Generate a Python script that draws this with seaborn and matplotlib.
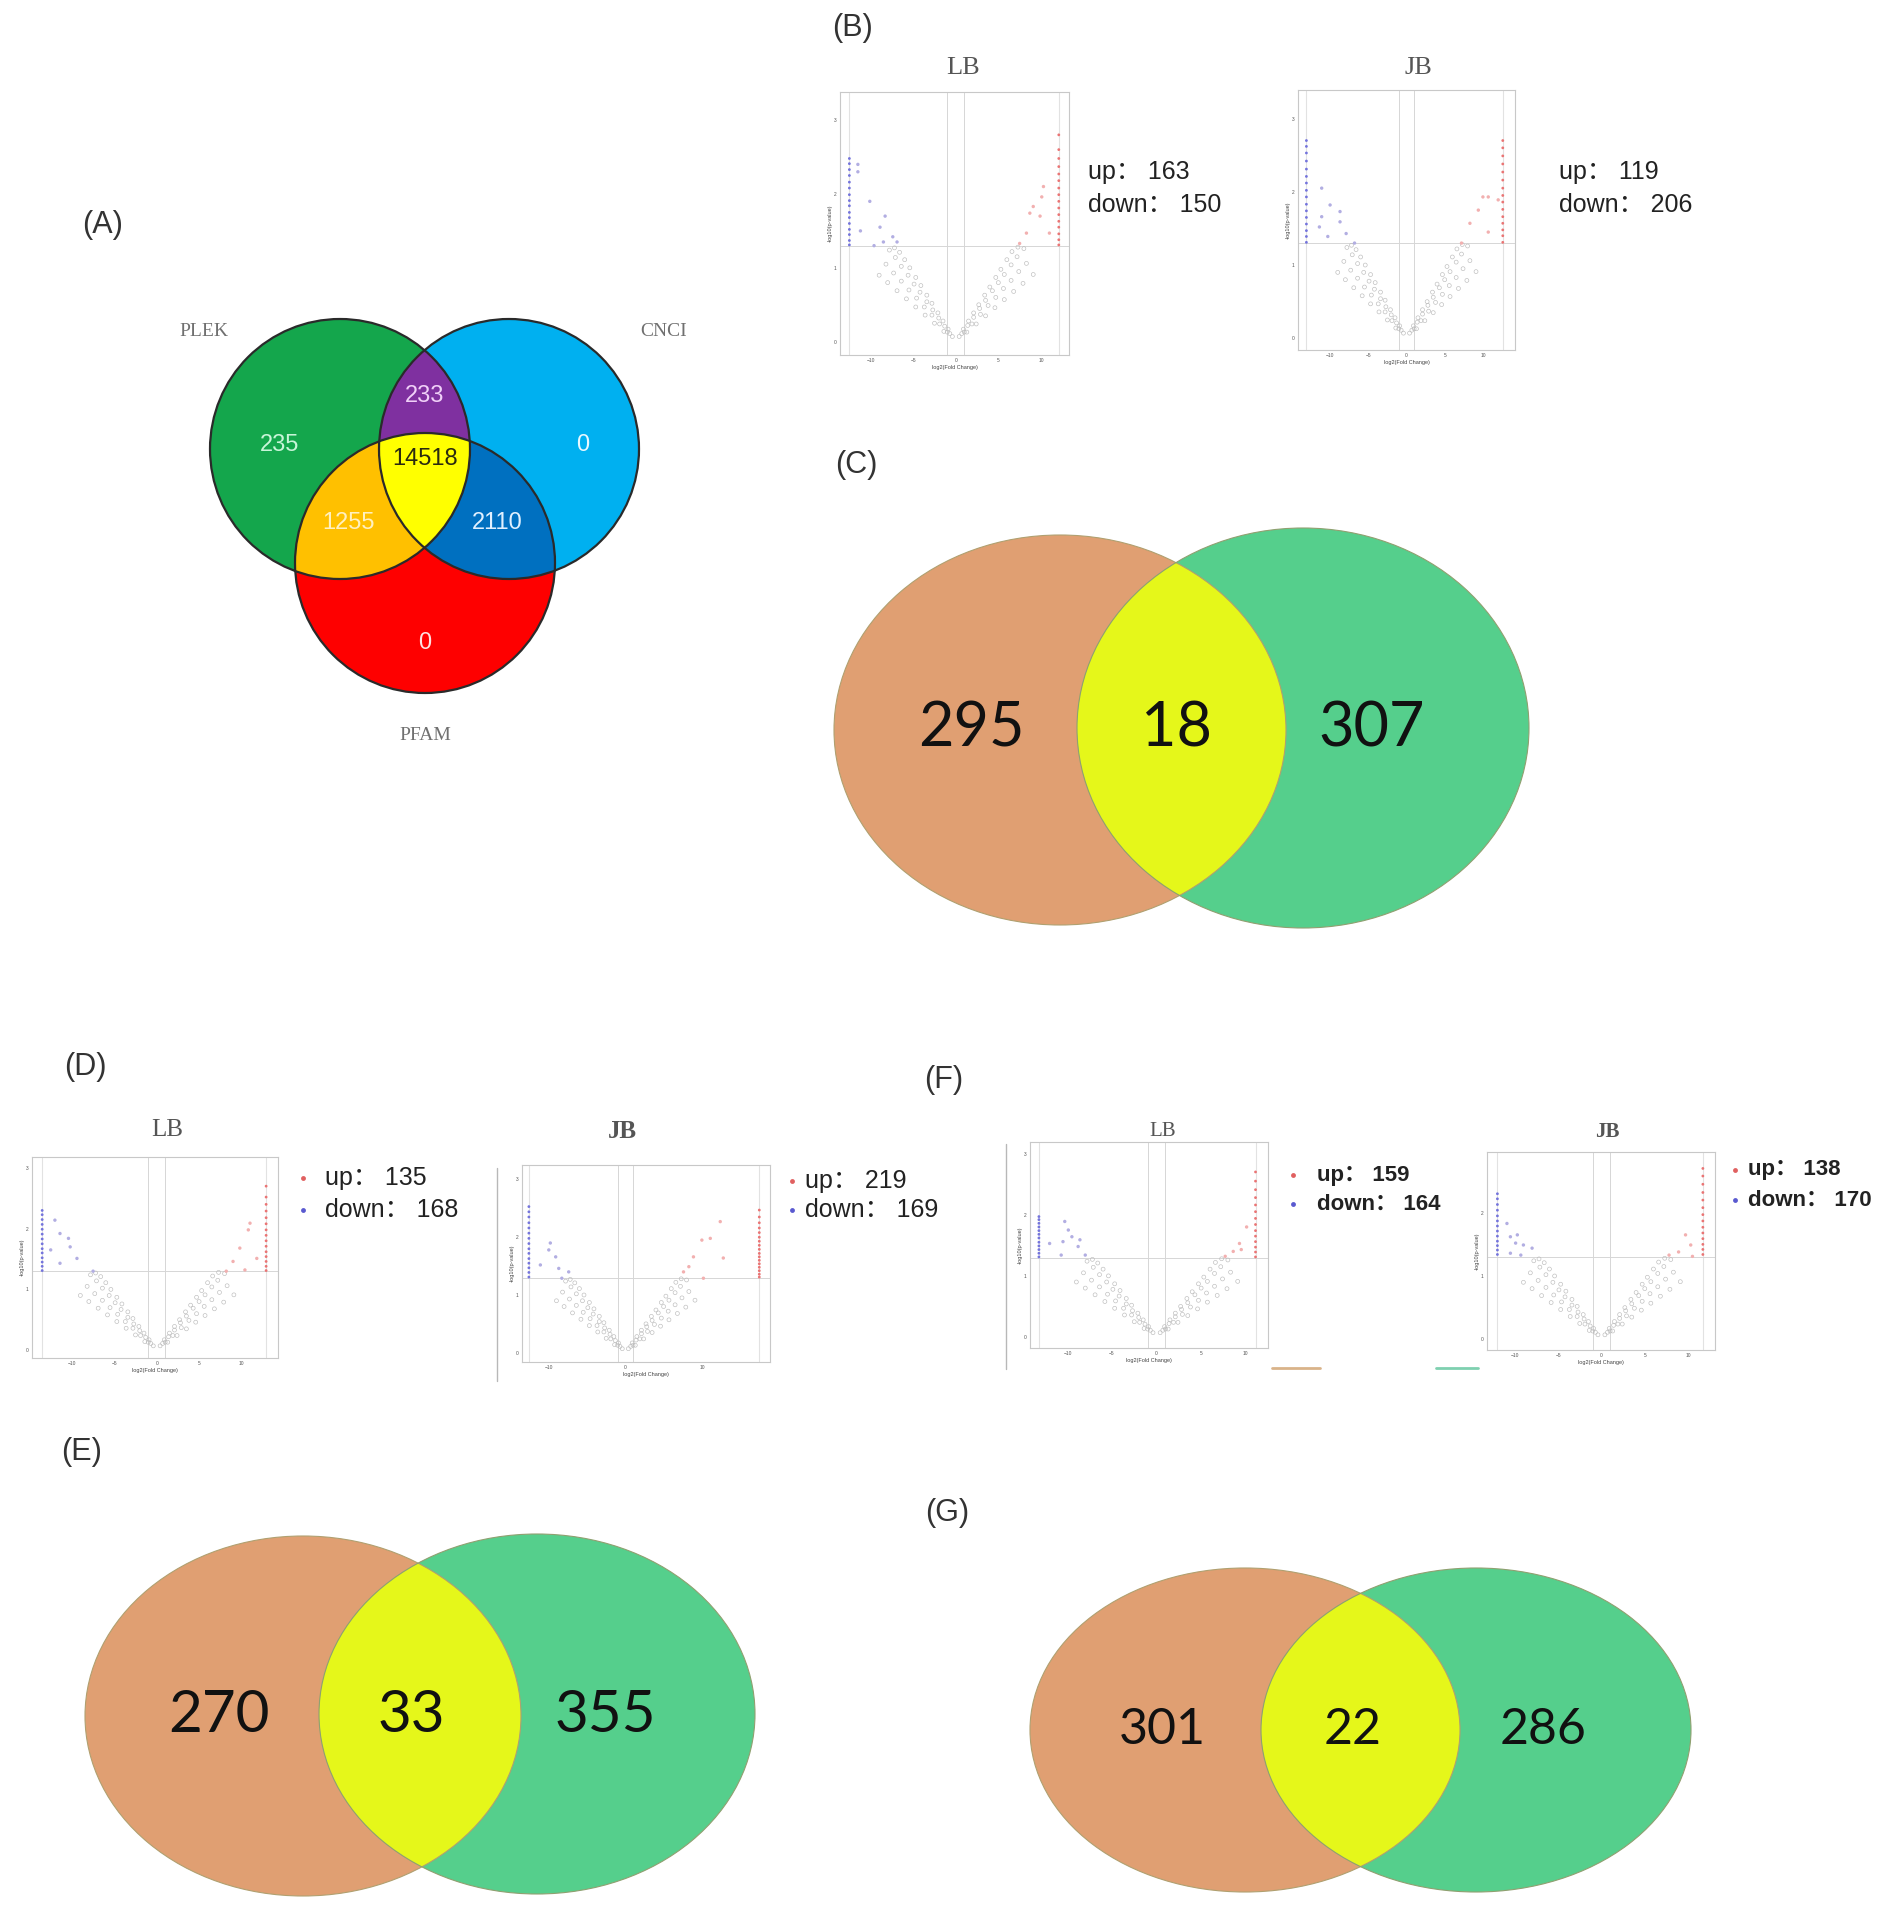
import numpy as np
import pandas as pd
import matplotlib.pyplot as plt
import seaborn as sns
from matplotlib.patches import Circle, Ellipse, Polygon

# ---- data ----
# panel A: three-way venn (PLEK / CNCI / PFAM)
venn3_names = ['PLEK', 'CNCI', 'PFAM']
venn3_regions = ['plek', 'plek_cnci', 'cnci', 'all', 'plek_pfam', 'cnci_pfam', 'pfam']
venn3_counts = [235, 233, 0, 14518, 1255, 2110, 0]

# panels C, E, G: LB only / shared / JB only
venn_c = [295, 18, 307]
venn_e = [270, 33, 355]
venn_g = [301, 22, 286]

# volcano panels B(LB, JB), D(LB, JB), F(LB, JB)
volcano_groups = ['LB', 'JB', 'LB', 'JB', 'LB', 'JB']
volcano_up = [163, 119, 135, 219, 159, 138]
volcano_down = [150, 206, 168, 169, 164, 170]

# non significant genes (grey V), same look in every volcano
ns_fc = [-0.4, -0.9, -1.5, -2.1, -2.8, -3.4, -4.1, -4.7, -5.4, -6.0, -6.6, -7.2,
         -0.7, -1.3, -2.0, -2.7, -3.4, -4.2, -4.9, -5.6, -6.4, -7.1, -7.8,
         -1.0, -1.9, -2.8, -3.7, -4.6, -5.5, -6.4, -7.3, -8.2,
         -1.4, -2.5, -3.6, -4.7, -5.8, -6.9, -8.0, -9.0,
         0.4, 0.9, 1.5, 2.1, 2.7, 3.4, 4.0, 4.7, 5.3, 6.0, 6.6, 7.3,
         0.7, 1.4, 2.1, 2.8, 3.5, 4.3, 5.0, 5.7, 6.5, 7.2, 8.0,
         1.0, 1.9, 2.9, 3.8, 4.7, 5.6, 6.5, 7.4, 8.3,
         1.3, 2.4, 3.5, 4.6, 5.7, 6.8, 7.9, 9.1]
ns_logp = [0.07, 0.17, 0.28, 0.39, 0.52, 0.63, 0.76, 0.87, 1.00, 1.11, 1.21, 1.27,
           0.11, 0.21, 0.32, 0.43, 0.54, 0.67, 0.78, 0.90, 1.02, 1.14, 1.24,
           0.13, 0.24, 0.36, 0.47, 0.59, 0.70, 0.82, 0.93, 1.05,
           0.14, 0.25, 0.36, 0.47, 0.58, 0.69, 0.80, 0.90,
           0.07, 0.17, 0.28, 0.39, 0.50, 0.63, 0.74, 0.87, 0.98, 1.11, 1.22, 1.28,
           0.11, 0.22, 0.33, 0.45, 0.56, 0.69, 0.80, 0.91, 1.04, 1.15, 1.26,
           0.13, 0.24, 0.37, 0.49, 0.60, 0.72, 0.83, 0.95, 1.06,
           0.13, 0.24, 0.35, 0.46, 0.57, 0.68, 0.79, 0.91]

# B - LB
b_lb_col_fc = [-12.5, 12.1]
b_lb_down = [1.31, 1.37, 1.45, 1.52, 1.6, 1.68, 1.75, 1.84, 1.91, 1.99, 2.08, 2.16, 2.25, 2.33, 2.41, 2.48]
b_lb_up = [1.31, 1.38, 1.46, 1.55, 1.63, 1.72, 1.81, 1.9, 1.99, 2.08, 2.18, 2.27, 2.37, 2.48, 2.6, 2.8]
b_lb_sig_fc = [-11.5, -11.5, -10.1, -8.3, -11.2, -8.9, -7.4, -8.5, -9.6, -6.9,
               7.5, 8.3, 8.7, 10.1, 10.3, 9.9, 11.0, 9.1]
b_lb_sig_p = [2.4, 2.3, 1.9, 1.7, 1.5, 1.55, 1.42, 1.35, 1.3, 1.35,
              1.33, 1.47, 1.74, 1.96, 2.1, 1.7, 1.47, 1.83]

# B - JB
b_jb_col_fc = [-13.1, 12.6]
b_jb_down = [1.31, 1.39, 1.47, 1.56, 1.65, 1.74, 1.83, 1.93, 2.02, 2.12, 2.21, 2.31, 2.42, 2.53, 2.62, 2.7]
b_jb_up = [1.31, 1.4, 1.48, 1.57, 1.66, 1.76, 1.86, 1.95, 2.05, 2.16, 2.27, 2.38, 2.49, 2.6, 2.7]
b_jb_sig_fc = [-11.1, -10.0, -11.1, -8.7, -8.7, -11.4, -10.3, -7.9, -6.8,
               7.2, 8.3, 9.4, 10.0, 10.7, 12.0, 10.7]
b_jb_sig_p = [2.05, 1.82, 1.66, 1.73, 1.59, 1.52, 1.39, 1.43, 1.3,
              1.3, 1.57, 1.75, 1.93, 1.93, 1.89, 1.45]

# D - LB
d_lb_col_fc = [-13.5, 12.9]
d_lb_down = [1.31, 1.38, 1.45, 1.52, 1.6, 1.67, 1.75, 1.83, 1.91, 1.99, 2.07, 2.15, 2.23, 2.3]
d_lb_up = [1.31, 1.38, 1.46, 1.54, 1.62, 1.71, 1.8, 1.89, 1.98, 2.08, 2.18, 2.29, 2.4, 2.52, 2.7]
d_lb_sig_fc = [-12.0, -11.4, -10.4, -10.2, -12.5, -11.4, -9.4, -7.5,
               8.2, 9.0, 9.8, 10.8, 11.0, 10.4, 11.8]
d_lb_sig_p = [2.14, 1.92, 1.84, 1.7, 1.65, 1.43, 1.51, 1.3,
              1.3, 1.46, 1.68, 1.98, 2.09, 1.32, 1.51]

# D - JB
d_jb_col_fc = [-12.6, 17.5]
d_jb_down = [1.31, 1.39, 1.47, 1.55, 1.63, 1.72, 1.8, 1.89, 1.98, 2.07, 2.16, 2.25, 2.35, 2.44, 2.53]
d_jb_up = [1.31, 1.36, 1.42, 1.48, 1.54, 1.6, 1.66, 1.72, 1.79, 1.86, 1.93, 2.0, 2.08, 2.16, 2.25, 2.35, 2.47]
d_jb_sig_fc = [-9.8, -10.0, -9.1, -11.1, -8.7, -7.4, -8.3,
               12.4, 11.1, 10.0, 8.9, 8.3, 7.6, 12.8, 10.2]
d_jb_sig_p = [1.9, 1.78, 1.66, 1.52, 1.46, 1.4, 1.29,
              2.27, 1.98, 1.95, 1.66, 1.49, 1.4, 1.64, 1.29]

# F - LB
f_lb_col_fc = [-13.2, 11.1]
f_lb_down = [1.31, 1.37, 1.43, 1.49, 1.55, 1.62, 1.68, 1.74, 1.8, 1.86, 1.92, 1.97]
f_lb_up = [1.31, 1.39, 1.47, 1.56, 1.65, 1.74, 1.84, 1.94, 2.05, 2.16, 2.28, 2.41, 2.55, 2.7]
f_lb_sig_fc = [-10.3, -9.9, -10.5, -9.5, -8.6, -8.8, -12.0, -8.0, -10.7,
               7.7, 8.6, 9.3, 10.1, 9.5]
f_lb_sig_p = [1.89, 1.75, 1.56, 1.64, 1.59, 1.48, 1.53, 1.34, 1.34,
              1.32, 1.4, 1.53, 1.8, 1.43]

# F - JB
f_jb_col_fc = [-12.0, 11.7]
f_jb_down = [1.34, 1.41, 1.48, 1.55, 1.63, 1.71, 1.79, 1.87, 1.95, 2.04, 2.13, 2.22, 2.3]
f_jb_up = [1.34, 1.42, 1.5, 1.59, 1.68, 1.77, 1.87, 1.97, 2.08, 2.2, 2.32, 2.45, 2.58, 2.7]
f_jb_sig_fc = [-10.9, -10.5, -9.7, -9.9, -10.5, -9.0, -8.0, -9.3,
               7.8, 8.9, 9.7, 10.5, 10.3]
f_jb_sig_p = [1.83, 1.62, 1.65, 1.52, 1.36, 1.49, 1.44, 1.33,
              1.33, 1.38, 1.65, 1.31, 1.49]


W, H = 1902, 1905
sns.set_style('white')
plt.rcParams['font.family'] = ['Liberation Sans', 'Noto Sans CJK SC', 'DejaVu Sans']

fig = plt.figure(figsize=(W / 100, H / 100), dpi=100)
fig.patch.set_facecolor('white')

# overlay axes in pixel units for the venns and labels
ax0 = fig.add_axes([0, 0, 1, 1])
ax0.set_xlim(0, W)
ax0.set_ylim(H, 0)
ax0.axis('off')


def px(x, y):
    return x / W, 1 - y / H


def px_rect(l, t, r, b):
    return [l / W, 1 - b / H, (r - l) / W, (b - t) / H]


# panel letters
for lab, x, y in [('(A)', 103, 225), ('(B)', 852, 28), ('(C)', 856, 465), ('(D)', 85, 1067),
                  ('(E)', 82, 1452), ('(F)', 944, 1080), ('(G)', 947, 1513)]:
    fig.text(*px(x, y), lab, fontsize=22, color='#333333', ha='center', va='center')


# ---------------- panel A : three set venn ----------------
gc, bc, rc, r = (340, 449), (509, 449), (425, 563), 130
green = Circle(gc, r, fc='#14a64c', ec='none', zorder=1)
blue = Circle(bc, r, fc='#00b0f0', ec='none', zorder=1)
red = Circle(rc, r, fc='#fe0000', ec='none', zorder=1)
for p in (green, blue, red):
    ax0.add_patch(p)

purple = Circle(bc, r, fc='#7f30a0', ec='none', zorder=2)
orange = Circle(rc, r, fc='#ffc000', ec='none', zorder=2)
dblue = Circle(rc, r, fc='#0070c0', ec='none', zorder=2)
for p, clip in ((purple, green), (orange, green), (dblue, blue)):
    ax0.add_patch(p)
    p.set_clip_path(clip)

# lens green & blue, used to clip the triple overlap
t = np.linspace(0, 2 * np.pi, 721)
p1 = np.c_[gc[0] + r * np.cos(t), gc[1] + r * np.sin(t)]
p2 = np.c_[bc[0] + r * np.cos(t), bc[1] + r * np.sin(t)]
pts = np.vstack([p1[np.hypot(p1[:, 0] - bc[0], p1[:, 1] - bc[1]) <= r],
                 p2[np.hypot(p2[:, 0] - gc[0], p2[:, 1] - gc[1]) <= r]])
cen = pts.mean(axis=0)
pts = pts[np.argsort(np.arctan2(pts[:, 1] - cen[1], pts[:, 0] - cen[0]))]
lens = Polygon(pts, closed=True, transform=ax0.transData)
yellow = Circle(rc, r, fc='#ffff00', ec='none', zorder=3)
ax0.add_patch(yellow)
yellow.set_clip_path(lens)

for c in (gc, bc, rc):
    ax0.add_patch(Circle(c, r, fill=False, ec='#2a2a2a', lw=1.6, zorder=4))

for name, (x, y) in zip(venn3_names, [(204, 331), (664, 331), (425, 736)]):
    ax0.text(x, y, name, fontsize=14, family='Liberation Serif', color='#707070',
             ha='center', va='center')

a_pos = [(280, 445), (425, 396), (583, 445), (425, 459), (348, 523), (497, 523), (425, 643)]
a_col = ['#c8f5d8', '#f0d0f8', '#e8f8ff', '#2a2a10', '#fff0c0', '#e0f0ff', '#ffe0e0']
for n, (x, y), c in zip(venn3_counts, a_pos, a_col):
    ax0.text(x, y, str(n), fontsize=17, color=c, ha='center', va='center', zorder=5)


# ---------------- panels C, E, G : two set venns ----------------
def venn2(lc, rc, rx, ry_l, ry_r, counts, xs, fs):
    left = Ellipse(lc, 2 * rx, 2 * ry_l, fc='#e09f72', ec='none', zorder=1)
    right = Ellipse(rc, 2 * rx, 2 * ry_r, fc='#55cf8c', ec='none', zorder=1)
    ax0.add_patch(left)
    ax0.add_patch(right)
    mid = Ellipse(rc, 2 * rx, 2 * ry_r, fc='#e5f71a', ec='none', zorder=2)
    ax0.add_patch(mid)
    mid.set_clip_path(left)
    ax0.add_patch(Ellipse(lc, 2 * rx, 2 * ry_l, fill=False, ec='#b0a070', lw=0.8, zorder=3))
    ax0.add_patch(Ellipse(rc, 2 * rx, 2 * ry_r, fill=False, ec='#90a070', lw=0.8, zorder=3))
    for n, x in zip(counts, xs):
        ax0.text(x, (lc[1] + rc[1]) / 2, str(n), fontsize=fs, family='Lato', color='#111111',
                 ha='center', va='center', zorder=4)


venn2((1060, 730), (1303, 728), 226, 195, 200, venn_c, [971, 1176, 1372], 44)
venn2((303, 1716), (537, 1714), 218, 180, 180, venn_e, [219, 411, 605], 42)
venn2((1245, 1730), (1476, 1730), 215, 162, 162, venn_g, [1162, 1353, 1543], 36)


# ---------------- volcano plots ----------------
def draw_volcano(rect, col_fc, down_p, up_p, sig_fc, sig_p, xlim, ylim, xticks, yticks):
    ax = fig.add_axes(px_rect(*rect))
    for v in col_fc:
        ax.axvline(v, color='#e2e2e2', lw=0.8, zorder=0)
    for v in (-1, 1):
        ax.axvline(v, color='#d6d6d6', lw=0.7, zorder=0)
    ax.axhline(1.3, color='#d6d6d6', lw=0.7, zorder=0)

    sns.scatterplot(x=ns_fc, y=ns_logp, ax=ax, s=8, color='none',
                    edgecolor='#bcbcbc', linewidth=0.45, legend=False)

    sig = pd.DataFrame({'fc': sig_fc, 'p': sig_p})
    sig['dir'] = np.where(sig['fc'] < 0, 'down', 'up')
    sns.scatterplot(data=sig, x='fc', y='p', hue='dir', ax=ax, s=6, edgecolor='none',
                    palette={'down': '#b2aee2', 'up': '#f2b0b0'}, legend=False)

    col = pd.DataFrame({'fc': [col_fc[0]] * len(down_p) + [col_fc[1]] * len(up_p),
                        'p': down_p + up_p,
                        'dir': ['down'] * len(down_p) + ['up'] * len(up_p)})
    sns.scatterplot(data=col, x='fc', y='p', hue='dir', ax=ax, s=4, edgecolor='none',
                    palette={'down': '#7474dc', 'up': '#ea7474'}, legend=False)

    ax.set_xlim(xlim)
    ax.set_ylim(ylim)
    ax.set_xticks(xticks)
    ax.set_yticks(yticks)
    ax.tick_params(labelsize=3.5, length=1.5, width=0.5, colors='#555555', pad=1)
    ax.set_xlabel('log2(Fold Change)', fontsize=4, labelpad=1, color='#444444')
    ax.set_ylabel('-log10(p-value)', fontsize=4, labelpad=1, color='#444444')
    for s in ax.spines.values():
        s.set_color('#c8c8c8')
        s.set_linewidth(0.8)
    return ax


xt5 = [-10, -5, 0, 5, 10]
yt = [0, 1, 2, 3]
draw_volcano((840, 92, 1069, 355), b_lb_col_fc, b_lb_down, b_lb_up, b_lb_sig_fc, b_lb_sig_p,
             (-13.6, 13.3), (-0.18, 3.38), xt5, yt)
draw_volcano((1298, 90, 1515, 350), b_jb_col_fc, b_jb_down, b_jb_up, b_jb_sig_fc, b_jb_sig_p,
             (-14.2, 14.2), (-0.16, 3.39), xt5, yt)
draw_volcano((32, 1157, 278, 1358), d_lb_col_fc, d_lb_down, d_lb_up, d_lb_sig_fc, d_lb_sig_p,
             (-14.7, 14.3), (-0.13, 3.18), xt5, yt)
draw_volcano((522, 1165, 770, 1362), d_jb_col_fc, d_jb_down, d_jb_up, d_jb_sig_fc, d_jb_sig_p,
             (-13.5, 18.9), (-0.16, 3.25), [-10, 0, 10], yt)
draw_volcano((1030, 1142, 1268, 1348), f_lb_col_fc, f_lb_down, f_lb_up, f_lb_sig_fc, f_lb_sig_p,
             (-14.2, 12.5), (-0.18, 3.19), xt5, yt)
draw_volcano((1487, 1152, 1715, 1350), f_jb_col_fc, f_jb_down, f_jb_up, f_jb_sig_fc, f_jb_sig_p,
             (-13.2, 13.1), (-0.17, 2.96), xt5, [0, 1, 2])

# titles of volcanoes
title_pos = [(963, 68, 19, 'normal'), (1418, 68, 19, 'normal'), (167, 1130, 18, 'normal'),
             (622, 1132, 18, 'bold'), (1163, 1132, 15, 'normal'), (1607, 1132, 15, 'bold')]
for g, (x, y, fs, fw) in zip(volcano_groups, title_pos):
    fig.text(*px(x, y), g, fontsize=fs, fontweight=fw, family='Liberation Serif',
             color='#555555', ha='center', va='center')

# up / down counts
count_pos = [(1088, 172, 205, None, 18, 'normal'), (1559, 172, 205, None, 18, 'normal'),
             (325, 1178, 1210, 303, 18, 'normal'), (805, 1181, 1210, 792, 18, 'normal'),
             (1317, 1175, 1204, 1293, 16, 'bold'), (1748, 1170, 1200, 1735, 16, 'bold')]
for up, dn, (x, yu, yd, mx, fs, fw) in zip(volcano_up, volcano_down, count_pos):
    fig.text(*px(x, yu), f'up： {up}', fontsize=fs, fontweight=fw, color='#222222', va='center')
    fig.text(*px(x, yd), f'down： {dn}', fontsize=fs, fontweight=fw, color='#222222', va='center')
    if mx is not None:
        ax0.plot(mx, yu, 'o', ms=3.5, color='#e06060', mec='none')
        ax0.plot(mx, yd, 'o', ms=3.5, color='#5a5ad0', mec='none')

# leftover borders / crop remnants of the original layout
ax0.plot([497, 497], [1168, 1381], color='#b8b8b8', lw=1)
ax0.plot([1006, 1006], [1144, 1369], color='#b8b8b8', lw=1)
ax0.plot([1272, 1320], [1368, 1368], color='#d9b38a', lw=2)
ax0.plot([1436, 1478], [1368, 1368], color='#7fd0b0', lw=2)

fig.savefig('out.png', dpi=100, facecolor='white')
